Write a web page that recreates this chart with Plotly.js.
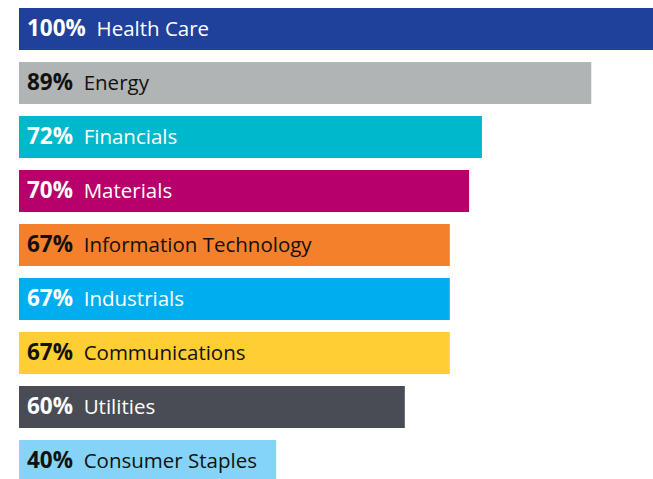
<!DOCTYPE html>
<html>
<head>
<meta charset="utf-8">
<script src="https://cdn.plot.ly/plotly-3.0.1.min.js"></script>
<style>
  body { margin: 0; background: #fff; }
  #chart { width: 653px; height: 479px; }
</style>
</head>
<body>
<div id="chart"></div>
<script>
// sectors, top to bottom
var sectors = ["Health Care", "Energy", "Financials", "Materials", "Information Technology",
               "Industrials", "Communications", "Utilities", "Consumer Staples"];
var shares = [100, 89, 72, 70, 67, 67, 67, 60, 40];
var barColors = ["#1f419b", "#b1b4b4", "#00b8cc", "#b8006a", "#f5802b",
                 "#00aeef", "#ffce33", "#4a4c55", "#85d4f7"];
var labelColors = ["#ffffff", "#111111", "#ffffff", "#ffffff", "#111111",
                   "#ffffff", "#111111", "#ffffff", "#111111"];

var trace = {
  type: "bar",
  orientation: "h",
  x: shares,
  y: sectors,
  marker: { color: barColors, line: { width: 0 } },
  hoverinfo: "none"
};

// bold percent followed by the sector name, pinned to the left end of each bar
var annotations = sectors.map((s, i) => ({
  x: 0, y: s, xref: "x", yref: "y",
  xanchor: "left", yanchor: "middle",
  xshift: 6, yshift: 2,
  showarrow: false,
  text: "<span style='font-size:22.5px'><b>" + shares[i] + "%</b></span>\u00a0\u00a0" + s,
  font: { family: "Open Sans", size: 20.5, color: labelColors[i] }
}));

var layout = {
  width: 653,
  height: 479,
  margin: { l: 19, r: 0, t: 0, b: 0 },
  paper_bgcolor: "#ffffff",
  plot_bgcolor: "#ffffff",
  showlegend: false,
  bargap: 0.222,
  xaxis: { range: [0, 98.6], visible: false, fixedrange: true },
  yaxis: { range: [8.333, -0.537], visible: false, fixedrange: true },
  annotations: annotations
};

Plotly.newPlot("chart", [trace], layout, { displayModeBar: false, staticPlot: true });
</script>
</body>
</html>
